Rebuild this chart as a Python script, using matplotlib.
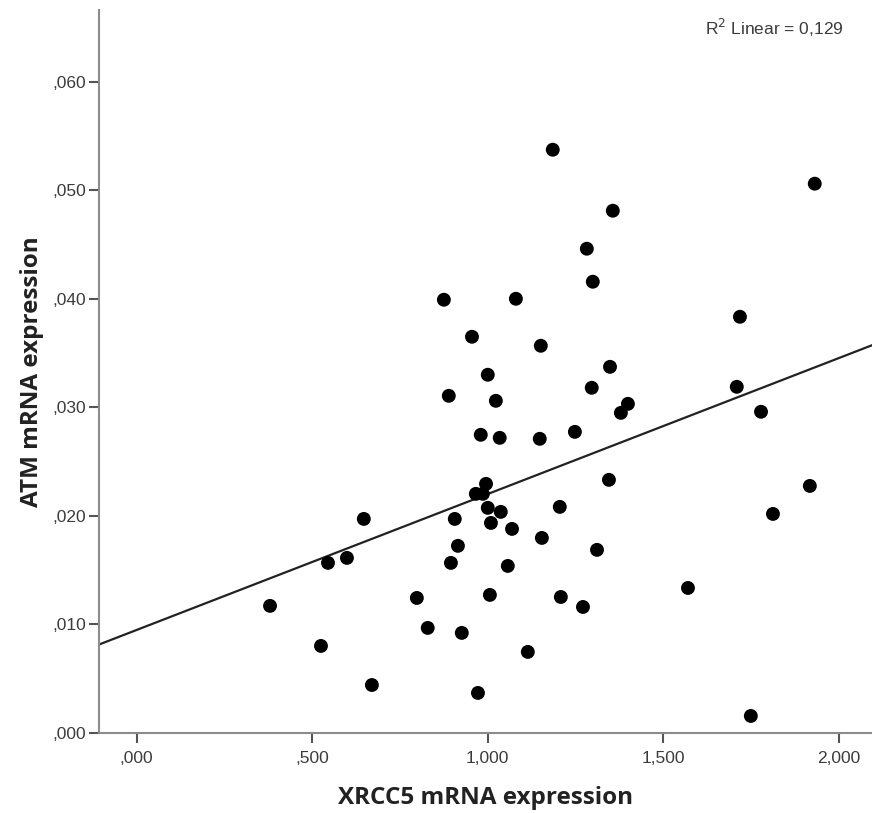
#!/usr/bin/env python3

import numpy as np
from matplotlib import pyplot as plt
from matplotlib.ticker import FuncFormatter

# XRCC5 vs ATM mRNA expression
xrcc5 = [0.380, 0.525, 0.670, 0.647, 0.545, 0.599, 0.798, 0.829, 0.875, 0.889,
         0.895, 0.906, 0.915, 0.926, 0.955, 0.972, 0.980, 0.966, 0.986, 0.995,
         1.000, 1.000, 1.009, 1.006, 1.023, 1.034, 1.037, 1.057, 1.069, 1.080,
         1.114, 1.148, 1.151, 1.154, 1.185, 1.205, 1.208, 1.248, 1.271, 1.282,
         1.296, 1.299, 1.311, 1.345, 1.348, 1.356, 1.379, 1.399, 1.570, 1.709,
         1.718, 1.749, 1.778, 1.812, 1.917, 1.931]
atm = [0.01171, 0.00802, 0.00442, 0.01972, 0.01567, 0.01613, 0.01244, 0.00968,
       0.03991, 0.03106, 0.01567, 0.01972, 0.01724, 0.00922, 0.03650, 0.00369,
       0.02747, 0.02203, 0.02203, 0.02295, 0.03300, 0.02074, 0.01935, 0.01272,
       0.03060, 0.02719, 0.02037, 0.01539, 0.01880, 0.04000, 0.00747, 0.02710,
       0.03567, 0.01797, 0.05373, 0.02083, 0.01253, 0.02774, 0.01161, 0.04461,
       0.03180, 0.04157, 0.01687, 0.02332, 0.03373, 0.04811, 0.02949, 0.03032,
       0.01336, 0.03189, 0.03834, 0.00157, 0.02959, 0.02018, 0.02276, 0.05060]

xticks = [0.0, 0.5, 1.0, 1.5, 2.0]
yticks = [0.0, 0.01, 0.02, 0.03, 0.04, 0.05, 0.06]
r2_label = 'R$^2$ Linear = 0,129'

AXISGRAY = '#8c8c8c'
TEXTGRAY = '#3c3c3c'


def spss_fmt(v, pos=None):
    # SPSS style: comma decimal, no leading zero
    s = ('%.3f' % v).replace('.', ',')
    if s.startswith('0,'):
        s = s[1:]
    return s


x = np.array(xrcc5)
y = np.array(atm)

fig = plt.figure(figsize=(8.72, 8.13), dpi=100)
ax = fig.add_axes([99 / 872, 1 - 733 / 813, 1 - 99 / 872, 723 / 813])

ax.scatter(x, y, s=100, c='black', edgecolors='none', zorder=3)

# least squares fit line across the whole axis
xlim = (-0.107, 2.094)
b, a = np.polyfit(x, y, 1)
xs = np.array(xlim)
ax.plot(xs, a + b * xs, color='#222222', lw=1.6, zorder=2)

ax.set_xlim(*xlim)
ax.set_ylim(0, 0.0666)

for side in ('top', 'right'):
    ax.spines[side].set_visible(False)
for side in ('left', 'bottom'):
    ax.spines[side].set_color(AXISGRAY)
    ax.spines[side].set_linewidth(1.5)

ax.set_xticks(xticks)
ax.set_yticks(yticks)
ax.xaxis.set_major_formatter(FuncFormatter(spss_fmt))
ax.yaxis.set_major_formatter(FuncFormatter(spss_fmt))
ax.tick_params(direction='out', length=7, width=1.5, color='#555555',
               labelsize=12.5, labelcolor=TEXTGRAY)
ax.tick_params(axis='x', pad=6)
ax.tick_params(axis='y', pad=2)
for lab in ax.get_xticklabels() + ax.get_yticklabels():
    lab.set_family('Liberation Sans')

ax.set_xlabel('XRCC5 mRNA expression', fontsize=17.5, fontweight='bold',
              family='Open Sans', color='#222222', labelpad=14)
ax.set_ylabel('ATM mRNA expression', fontsize=17.5, fontweight='bold',
              family='Open Sans', color='#222222', labelpad=6)

ax.text(0.963, 0.99, r2_label, transform=ax.transAxes, ha='right', va='top',
        fontsize=12.5, family='Liberation Sans', color=TEXTGRAY)

plt.savefig('out.png', dpi=100)
